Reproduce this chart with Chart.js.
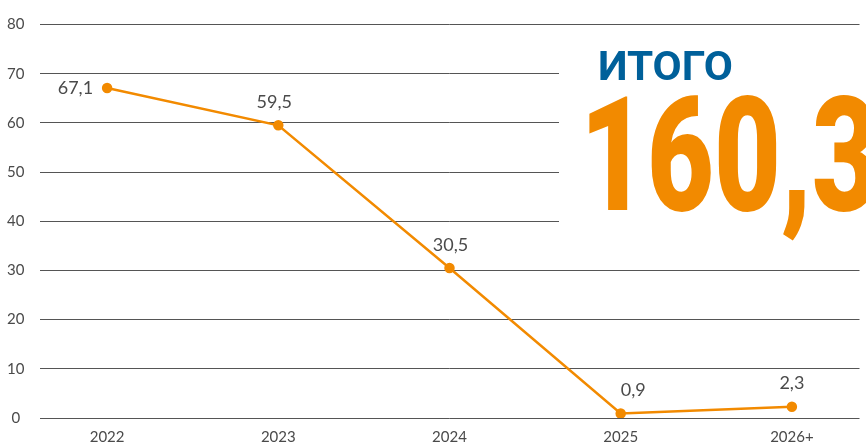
<!DOCTYPE html>
<html>
<head>
<meta charset="utf-8">
<script src="https://cdn.jsdelivr.net/npm/chart.js@4"></script>
<style>
    html, body { margin: 0; padding: 0; background: #fff; }
    #wrap { width: 866px; height: 445px; }
</style>
</head>
<body>
<div id="wrap"><canvas id="totalChart"></canvas></div>
<script>
const years = ["2022", "2023", "2024", "2025", "2026+"];
const amounts = [67.1, 59.5, 30.5, 0.9, 2.3];
const yTicks = [0, 10, 20, 30, 40, 50, 60, 70, 80];
const totalTitle = "ИТОГО";
const totalValue = "160,3";

const orange = "#F28A00";
const textGray = "#4a4a4a";

const fmt = v => v.toFixed(1).replace(".", ",");

// value labels next to the points
const valueLabels = {
    id: "valueLabels",
    afterDatasetsDraw(chart) {
        const { ctx } = chart;
        const meta = chart.getDatasetMeta(0);
        // [dx, dy, align] per point
        const place = [[-14, 0, "right"], [-4, -23, "center"], [1, -23, "center"], [0, -23, "left"], [0, -23, "center"]];
        ctx.save();
        ctx.font = "18px Lato";
        ctx.fillStyle = textGray;
        ctx.textBaseline = "middle";
        meta.data.forEach((pt, i) => {
            const [dx, dy, align] = place[i];
            ctx.textAlign = align;
            ctx.fillText(fmt(amounts[i]), pt.x + dx, pt.y + dy);
        });
        ctx.restore();
    }
};

// "ИТОГО 160,3" block on the right
const totalBlock = {
    id: "totalBlock",
    beforeDatasetsDraw(chart) {
        const { ctx } = chart;
        ctx.save();
        ctx.fillStyle = "#fff";
        ctx.fillRect(559, 35, 320, 210);

        ctx.textBaseline = "alphabetic";
        ctx.textAlign = "left";

        ctx.font = "bold 40px Roboto";
        ctx.fillStyle = "#00609A";
        let w = ctx.measureText(totalTitle).width;
        ctx.save();
        ctx.translate(598, 80);
        ctx.scale(135 / w, 1);
        ctx.fillText(totalTitle, 0, 0);
        ctx.restore();

        ctx.font = "900 159px Roboto";
        ctx.fillStyle = orange;
        w = ctx.measureText(totalValue.slice(0, 4)).width;
        ctx.save();
        ctx.translate(580, 210);
        ctx.scale(232 / w, 1);
        ctx.fillText(totalValue, 0, 0);
        ctx.restore();

        ctx.restore();
    }
};

new Chart(document.getElementById("totalChart"), {
    type: "line",
    data: {
        datasets: [{
            data: amounts.map((v, i) => ({ x: i, y: v })),
            borderColor: orange,
            backgroundColor: orange,
            borderWidth: 2.5,
            pointRadius: 4,
            pointHoverRadius: 4,
            tension: 0,
        }]
    },
    options: {
        responsive: true,
        maintainAspectRatio: false,
        animation: false,
        layout: { padding: { top: 20, left: 2, right: 0, bottom: 0 } },
        plugins: { legend: { display: false }, tooltip: { enabled: false } },
        scales: {
            x: {
                type: "linear",
                min: -0.392,
                max: 4.395,
                afterBuildTicks: axis => { axis.ticks = years.map((_, i) => ({ value: i })); },
                afterFit: axis => { axis.height = 27; },
                ticks: {
                    callback: v => years[v] ?? "",
                    color: textGray,
                    font: { family: "Lato", size: 15 },
                    padding: 10,
                    autoSkip: false,
                    maxRotation: 0,
                },
                grid: { display: false, drawTicks: false },
                border: { display: false },
            },
            y: {
                min: 0,
                max: 80,
                afterBuildTicks: axis => { axis.ticks = yTicks.map(v => ({ value: v })); },
                afterFit: axis => { axis.width = 38; },
                ticks: {
                    color: textGray,
                    font: { family: "Lato", size: 15 },
                    crossAlign: "center",
                    padding: 15.5,
                },
                grid: { color: "#555", lineWidth: 1, drawTicks: false },
                border: { display: false },
            }
        }
    },
    plugins: [totalBlock, valueLabels]
});
</script>
</body>
</html>
